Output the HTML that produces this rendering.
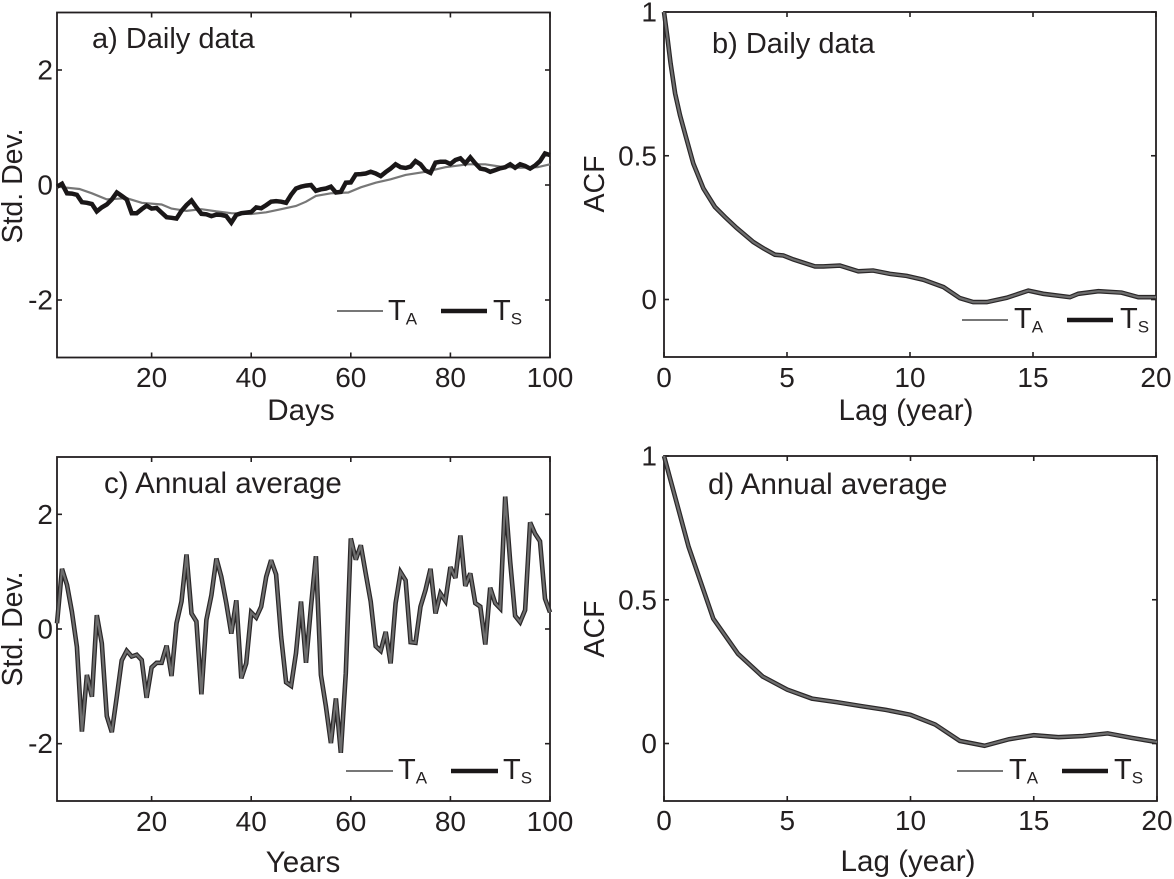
<!DOCTYPE html>
<html lang="en">
<head>
<meta charset="utf-8">
<title>Daily and annual temperature series and autocorrelation</title>
<style>
html,body{margin:0;padding:0;background:#fff;width:1174px;height:879px;overflow:hidden}
svg{display:block}
text{font-family:"Liberation Sans",sans-serif;font-size:29px;fill:#231f20}
.axis-title{font-size:29.6px}
.series-title{font-size:29px}
.annual-title{font-size:29.5px}
.tick-text{font-size:28px}
</style>
</head>
<body>
<svg id="figure" xmlns="http://www.w3.org/2000/svg" width="1174" height="879" viewBox="0 0 1174 879">
  <text class="series-title" x="92" y="48">a) Daily data</text>
  <text class="series-title" x="712" y="53">b) Daily data</text>
  <text class="annual-title" x="104" y="493">c) Annual average</text>
  <text class="annual-title" x="708" y="494">d) Annual average</text>

  <text style="font-size:28.5px" text-anchor="middle" transform="translate(22 186) rotate(-90)">Std. Dev.</text>
  <text style="font-size:28.5px" text-anchor="middle" transform="translate(22 629) rotate(-90)">Std. Dev.</text>
  <text style="font-size:28.5px" text-anchor="middle" transform="translate(604 184) rotate(-90)">ACF</text>
  <text style="font-size:28.5px" text-anchor="middle" transform="translate(604 629) rotate(-90)">ACF</text>

  <text class="axis-title" text-anchor="middle" x="301" y="420">Days</text>
  <text class="axis-title" text-anchor="middle" x="303" y="872">Years</text>
  <text class="axis-title" text-anchor="middle" x="906" y="420">Lag (year)</text>
  <text class="axis-title" text-anchor="middle" x="908" y="871">Lag (year)</text>

  <g>
    <line x1="337" y1="311" x2="383" y2="311" stroke="#777" stroke-width="2"/>
    <text x="388" y="320">T<tspan font-size="17" dy="4.5">A</tspan></text>
    <line x1="441" y1="311" x2="487" y2="311" stroke="#1a1718" stroke-width="4.5"/>
    <text x="493" y="320">T<tspan font-size="17" dy="4.5">S</tspan></text>
  </g>
  <g>
    <line x1="962" y1="320" x2="1008" y2="320" stroke="#777" stroke-width="2"/>
    <text x="1014" y="328">T<tspan font-size="17" dy="4.5">A</tspan></text>
    <line x1="1067" y1="320" x2="1113" y2="320" stroke="#1a1718" stroke-width="4.5"/>
    <text x="1120" y="328">T<tspan font-size="17" dy="4.5">S</tspan></text>
  </g>
  <g>
    <line x1="346" y1="771" x2="393" y2="771" stroke="#777" stroke-width="2"/>
    <text x="398" y="779">T<tspan font-size="17" dy="4.5">A</tspan></text>
    <line x1="451" y1="771" x2="498" y2="771" stroke="#1a1718" stroke-width="4.5"/>
    <text x="503" y="779">T<tspan font-size="17" dy="4.5">S</tspan></text>
  </g>
  <g>
    <line x1="957" y1="771" x2="1003" y2="771" stroke="#777" stroke-width="2"/>
    <text x="1009" y="779">T<tspan font-size="17" dy="4.5">A</tspan></text>
    <line x1="1062" y1="771" x2="1108" y2="771" stroke="#1a1718" stroke-width="4.5"/>
    <text x="1114" y="779">T<tspan font-size="17" dy="4.5">S</tspan></text>
  </g>
</svg>
<script>
// Shared axis tick labels
const dayYearTicks = [20, 40, 60, 80, 100];
const lagTicks = [0, 5, 10, 15, 20];
const stdTicks = [-2, 0, 2];
const acfTicks = [0, 0.5, 1];

// Panel a: daily data, days 1..100
const dailyTS = [-0.03,0.02,-0.145,-0.15,-0.17,-0.3,-0.31,-0.33,-0.46,-0.39,-0.34,-0.25,-0.13,-0.19,-0.25,-0.49,-0.49,-0.42,-0.36,-0.41,-0.4,-0.48,-0.56,-0.57,-0.585,-0.45,-0.35,-0.27,-0.39,-0.5,-0.51,-0.54,-0.515,-0.52,-0.54,-0.655,-0.52,-0.49,-0.48,-0.47,-0.39,-0.405,-0.35,-0.29,-0.28,-0.29,-0.31,-0.17,-0.06,-0.03,-0.01,0,-0.1,-0.075,-0.06,-0.03,-0.13,-0.12,0.04,0.045,0.185,0.19,0.2,0.23,0.2,0.155,0.225,0.285,0.36,0.31,0.295,0.32,0.415,0.36,0.25,0.21,0.39,0.405,0.405,0.365,0.435,0.465,0.375,0.48,0.375,0.285,0.27,0.23,0.26,0.29,0.31,0.36,0.3,0.36,0.33,0.285,0.34,0.415,0.55,0.52];
const dailyTADays = [1,5.5,8,11,15,18,22,24,27,30,33,36,40,43,46,49,51,53,56,59.5,62,65,68,71,75,79,83.5,87,90,94,97.5,100];
const dailyTA = [-0.03,-0.07,-0.145,-0.25,-0.23,-0.31,-0.34,-0.41,-0.45,-0.42,-0.46,-0.49,-0.505,-0.475,-0.42,-0.365,-0.29,-0.19,-0.145,-0.13,-0.04,0.04,0.1,0.175,0.23,0.31,0.36,0.36,0.32,0.3,0.31,0.36];

// Panel b: ACF of daily data
const acfDailyLags = [0,0.135,0.27,0.45,0.65,0.89,1.19,1.6,2.07,2.48,2.95,3.63,4.1,4.51,4.85,5.26,6.14,6.48,7.15,7.9,8.5,9.19,9.86,10.54,11.36,12.03,12.57,13.12,13.93,14.81,15.42,16.5,16.84,17.66,18.6,19.28,20];
const acfDaily = [1,0.914,0.821,0.717,0.641,0.566,0.473,0.386,0.322,0.287,0.249,0.2,0.175,0.156,0.153,0.139,0.115,0.115,0.118,0.098,0.101,0.089,0.082,0.069,0.043,0.005,-0.009,-0.009,0.006,0.031,0.02,0.008,0.02,0.029,0.024,0.008,0.008];

// Panel c: annual average, years 1..100
const annualSeries = [0.1,1.05,0.77,0.3,-0.31,-1.79,-0.8,-1.18,0.24,-0.25,-1.52,-1.8,-1.18,-0.55,-0.38,-0.48,-0.45,-0.54,-1.2,-0.67,-0.59,-0.59,-0.29,-0.82,0.1,0.48,1.3,0.27,0.13,-1.14,0.16,0.59,1.23,0.91,0.45,-0.08,0.5,-0.86,-0.6,0.29,0.2,0.39,0.91,1.2,0.95,-0.13,-0.93,-0.99,-0.42,0.48,-0.59,0.39,1.27,-0.8,-1.35,-1.99,-1.21,-2.16,-0.77,1.58,1.21,1.46,0.97,0.48,-0.3,-0.38,-0.05,-0.6,0.45,0.99,0.85,-0.23,-0.24,0.39,0.68,1.05,0.27,0.62,0.49,1.08,0.89,1.63,0.75,0.97,0.45,0.39,-0.27,0.72,0.45,0.36,2.31,1.17,0.23,0.12,0.33,1.86,1.66,1.53,0.53,0.29];

// Panel d: ACF of annual averages, lags 0..20
const acfAnnual = [1,0.684,0.434,0.312,0.233,0.187,0.156,0.144,0.13,0.117,0.1,0.066,0.009,-0.008,0.015,0.029,0.022,0.026,0.035,0.019,0.005];

const NS = 'http://www.w3.org/2000/svg';
const fig = document.getElementById('figure');

function svgEl(tag, parent) {
  const el = document.createElementNS(NS, tag);
  parent.appendChild(el);
  return el;
}
function scale(d0, d1, r0, r1) {
  return function (v) { return r0 + (v - d0) * (r1 - r0) / (d1 - d0); };
}
function pointsOf(xs, ys, sx, sy) {
  return ys.map(function (v, i) { return sx(xs[i]).toFixed(1) + ',' + sy(v).toFixed(1); }).join(' ');
}
function index(n, start) {
  return Array.from({ length: n }, function (_, i) { return i + start; });
}
function drawLine(parent, name, xs, ys, sx, sy, color, width) {
  const el = svgEl('polyline', parent);
  
  
  el.setAttribute('points', pointsOf(xs, ys, sx, sy));
  el.setAttribute('fill', 'none');
  el.setAttribute('stroke', color);
  el.setAttribute('stroke-width', width);
  el.setAttribute('stroke-linejoin', 'miter');
  el.setAttribute('stroke-miterlimit', '3');
}
function drawPanel(box, xDomain, yDomain, xTicks, yTicks, xLabelY, yLabelGap, name) {
  const g = svgEl('g', fig);
  
  
  const sx = scale(xDomain[0], xDomain[1], box.l, box.r);
  const sy = scale(yDomain[0], yDomain[1], box.b, box.t);
  const frame = svgEl('rect', g);
  
  
  frame.setAttribute('x', box.l);
  frame.setAttribute('y', box.t);
  frame.setAttribute('width', box.r - box.l);
  frame.setAttribute('height', box.b - box.t);
  frame.setAttribute('fill', 'none');
  frame.setAttribute('stroke', '#231f20');
  frame.setAttribute('stroke-width', '1.8');
  xTicks.forEach(function (t) {
    [[box.b, box.b - 5], [box.t, box.t + 5]].forEach(function (p) {
      const tick = svgEl('line', g);
      
      
      tick.setAttribute('x1', sx(t));
      tick.setAttribute('x2', sx(t));
      tick.setAttribute('y1', p[0]);
      tick.setAttribute('y2', p[1]);
      tick.setAttribute('stroke', '#231f20');
      tick.setAttribute('stroke-width', '1.6');
    });
    const label = svgEl('text', g);
    
    
    label.setAttribute('class', 'tick-text');
    label.setAttribute('x', sx(t));
    label.setAttribute('y', xLabelY);
    label.setAttribute('text-anchor', 'middle');
    label.textContent = String(t);
  });
  yTicks.forEach(function (t) {
    [[box.l, box.l + 5], [box.r, box.r - 5]].forEach(function (p) {
      const tick = svgEl('line', g);
      
      
      tick.setAttribute('y1', sy(t));
      tick.setAttribute('y2', sy(t));
      tick.setAttribute('x1', p[0]);
      tick.setAttribute('x2', p[1]);
      tick.setAttribute('stroke', '#231f20');
      tick.setAttribute('stroke-width', '1.6');
    });
    const label = svgEl('text', g);
    
    
    label.setAttribute('class', 'tick-text');
    label.setAttribute('x', box.l - yLabelGap);
    label.setAttribute('y', sy(t) + 9.5);
    label.setAttribute('text-anchor', 'end');
    label.textContent = String(t);
  });
  return { g: g, sx: sx, sy: sy };
}

const days = index(100, 1);
const lagsAnnual = index(21, 0);

const panelA = drawPanel({ l: 57, r: 550, t: 12.5, b: 357.5 }, [1, 100], [-3, 3], dayYearTicks, stdTicks, 387, 4, 'panel-a-daily-series');
drawLine(panelA.g, 'series-ta', dailyTADays, dailyTA, panelA.sx, panelA.sy, '#777', 2.2);
drawLine(panelA.g, 'series-ts', days, dailyTS, panelA.sx, panelA.sy, '#1a1718', 4.5);

const panelB = drawPanel({ l: 664, r: 1156, t: 12, b: 357 }, [0, 20], [-0.2, 1], lagTicks, acfTicks, 387, 7, 'panel-b-daily-acf');
drawLine(panelB.g, 'series-ts', acfDailyLags, acfDaily, panelB.sx, panelB.sy, '#2a2728', 4.6);
drawLine(panelB.g, 'series-ta', acfDailyLags, acfDaily, panelB.sx, panelB.sy, '#6e6e6e', 2.2);

const panelC = drawPanel({ l: 57, r: 550, t: 457, b: 801 }, [1, 100], [-3, 3], dayYearTicks, stdTicks, 831, 4, 'panel-c-annual-series');
drawLine(panelC.g, 'series-ts', days, annualSeries, panelC.sx, panelC.sy, '#2a2728', 4.6);
drawLine(panelC.g, 'series-ta', days, annualSeries, panelC.sx, panelC.sy, '#6e6e6e', 2.2);

const panelD = drawPanel({ l: 664, r: 1157, t: 456, b: 801 }, [0, 20], [-0.2, 1], lagTicks, acfTicks, 830, 7, 'panel-d-annual-acf');
drawLine(panelD.g, 'series-ts', lagsAnnual, acfAnnual, panelD.sx, panelD.sy, '#2a2728', 4.6);
drawLine(panelD.g, 'series-ta', lagsAnnual, acfAnnual, panelD.sx, panelD.sy, '#6e6e6e', 2.2);
</script>
</body>
</html>
